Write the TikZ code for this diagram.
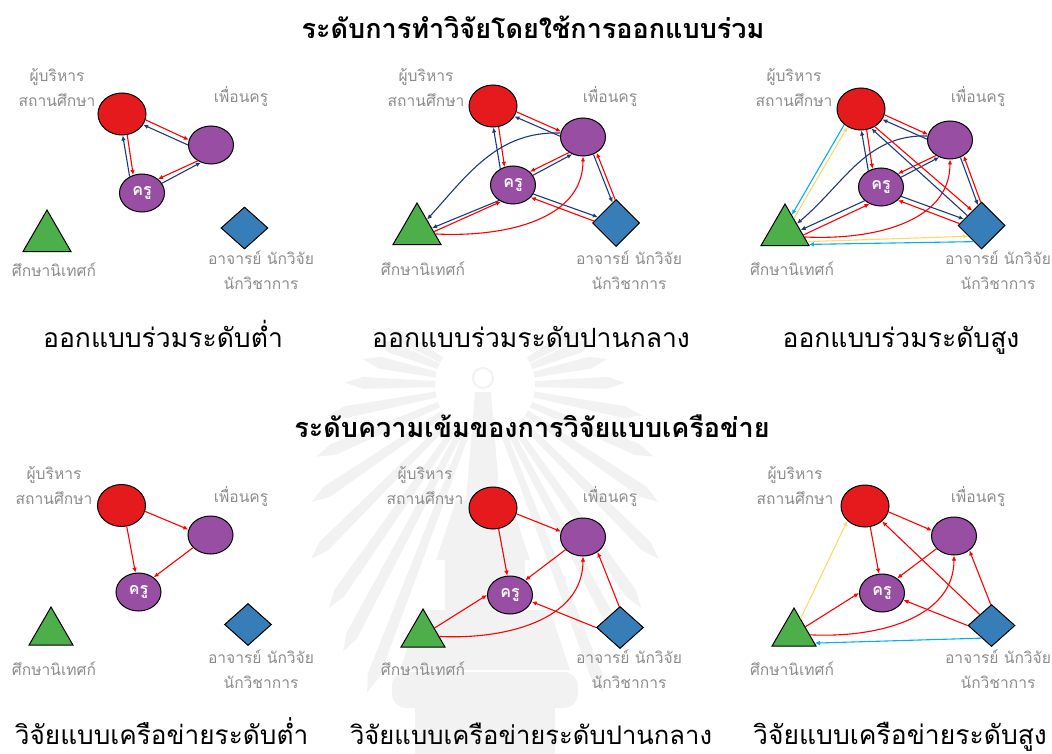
\documentclass[tikz,border=0pt]{standalone}
\usepackage{fontspec}
\newfontfamily\thaifont[Script=Thai]{Loma}
\usetikzlibrary{shapes.geometric,arrows.meta}
\definecolor{exred}{HTML}{E41A1C}
\definecolor{peerpurple}{HTML}{984EA3}
\definecolor{trigreen}{HTML}{4DAF4A}
\definecolor{diablue}{HTML}{377EB8}
\definecolor{labgray}{HTML}{8C8C8C}
\definecolor{linknavy}{HTML}{1F3A78}
\definecolor{linkcyan}{HTML}{00B0F0}
\definecolor{linkyellow}{HTML}{FFD966}
\definecolor{wmgray}{HTML}{F2F2F2}
\tikzset{
  execnode/.style={ellipse,draw=black,line width=1pt,fill=exred,inner sep=0pt,minimum width=48pt,minimum height=42pt},
  peernode/.style={ellipse,draw=black,line width=1pt,fill=peerpurple,inner sep=0pt,minimum width=45pt,minimum height=38pt},
  krunode/.style={peernode,text=white,font=\thaifont\bfseries\fontsize{16}{16}\selectfont},
  trinode/.style={regular polygon,regular polygon sides=3,draw=black,line width=1pt,fill=trigreen,inner sep=0pt,minimum size=#1},
  trinode/.default=55.4pt,
  dianode/.style={diamond,draw=black,line width=1pt,fill=diablue,inner sep=0pt,minimum width=47pt,minimum height=#1},
  dianode/.default=42pt,
  lab/.style={align=center,text=labgray,font=\thaifont\fontsize{15.6}{25}\selectfont},
  headline/.style={anchor=base,font=\thaifont\bfseries\fontsize{27}{30}\selectfont},
  capline/.style={anchor=base,font=\thaifont\fontsize{#1}{30}\selectfont},
  capline/.default=26.5,
  link/.style={-{Latex[length=5pt,width=4.5pt]},line width=1.1pt},
  redlink/.style={link,red},
  navylink/.style={link,linknavy},
  cyanlink/.style={link,linkcyan},
  yellowlink/.style={link,linkyellow},
  wmark/.style={fill=wmgray,draw=none}
}
\begin{document}
\begin{tikzpicture}[x=1pt,y=1pt]
  \useasboundingbox (0,0) rectangle (1052,-754);
  % faint emblem behind everything
  \foreach \ang/\len in {168/125,179/140,191/160,203/183,214/209,225/246,235/272,242/302,249/329,
                         12/125,1/140,-11/160,-23/183,-34/209,-45/246,-55/272,-62/302,-69/329,
                         150/115,30/115,158/120,22/120}
    \fill[wmark,shift={(485,-385)},rotate=\ang] (50,-3) -- ({\len-18},-6) -- (\len,0) -- ({\len-18},6) -- (50,3) -- cycle;
  \draw[draw=wmgray,line width=2pt] (483,-378) circle (10);
  \fill[wmark] (475,-392) -- (491,-392) -- (500,-500) -- (466,-500) -- cycle;
  \fill[wmark] (456,-500) -- (510,-500) -- (530,-560) -- (436,-560) -- cycle;
  \fill[wmark] (445,-560) rectangle (525,-610);
  \fill[wmark] (420,-610) -- (550,-610) -- (570,-670) -- (400,-670) -- cycle;
  \fill[wmark,rounded corners=14pt] (392,-672) rectangle (578,-708);
  \fill[wmark] (415,-708) rectangle (555,-754);

  % titles
  \node[headline] (title1) at (533,-39) {ระดับการทำวิจัยโดยใช้การออกแบบร่วม};
  \node[headline] (title2) at (532,-437) {ระดับความเข้มของการวิจัยแบบเครือข่าย};

  % panel 1
  \node[execnode] (ex1) at (122,-114) {};
  \node[peernode] (pe1) at (211,-145) {};
  \node[krunode] (kr1) at (142,-193) {ครู};
  \node[trinode] (tr1) at (47,-237.7) {};
  \node[dianode] (di1) at (244.5,-228) {};
  \node[lab] (exl1) at (57,-88) {ผู้บริหาร\\สถานศึกษา};
  \node[lab] (pel1) at (241,-97) {เพื่อนครู};
  \node[lab] (trl1) at (54,-270) {ศึกษานิเทศก์};
  \node[lab] (dil1) at (261,-270) {อาจารย์ นักวิจัย\\นักวิชาการ};
  \node[capline] (cap1) at (163,-347) {ออกแบบร่วมระดับต่ำ};
  \draw[redlink] (ex1.-14) -- (pe1.167);
  \draw[navylink] (pe1.180) -- (ex1.-27);
  \draw[redlink] (ex1.-76) -- (kr1.116);
  \draw[navylink] (kr1.127) -- (ex1.-88);
  \draw[redlink] (pe1.230) -- (kr1.41);
  \draw[navylink] (kr1.26) -- (pe1.240);

  % panel 2
  \node[execnode] (ex2) at (493,-106) {};
  \node[peernode] (pe2) at (583,-137) {};
  \node[krunode] (kr2) at (513,-185) {ครู};
  \node[trinode] (tr2) at (417,-230.7) {};
  \node[dianode=47pt] (di2) at (616,-223) {};
  \node[lab] (exl2) at (426,-88) {ผู้บริหาร\\สถานศึกษา};
  \node[lab] (pel2) at (610,-97) {เพื่อนครู};
  \node[lab] (trl2) at (423,-269) {ศึกษานิเทศก์};
  \node[lab] (dil2) at (629,-270) {อาจารย์ นักวิจัย\\นักวิชาการ};
  \node[capline] (cap2) at (531,-347) {ออกแบบร่วมระดับปานกลาง};
  \draw[redlink] (ex2.-14) -- (pe2.166);
  \draw[navylink] (pe2.178) -- (ex2.-26);
  \draw[redlink] (ex2.-75) -- (kr2.115);
  \draw[navylink] (kr2.128) -- (ex2.-89);
  \draw[redlink] (pe2.228) -- (kr2.38);
  \draw[navylink] (kr2.26) -- (pe2.238);
  \draw[navylink] (pe2.-59) -- (di2.100);
  \draw[redlink] (di2.92) -- (pe2.-49);
  \draw[navylink] (kr2.-24) -- (di2.162);
  \draw[redlink] (di2.175) -- (kr2.-35);
  \draw[navylink] (kr2.228) -- (tr2.10);
  \draw[redlink] (tr2.-3) -- (kr2.234);
  \draw[navylink] (pe2.170) to[out=178,in=48] (tr2.48);
  \draw[redlink] (tr2.-10) to[out=-3,in=-90] (pe2.-90);

  % panel 3
  \node[execnode] (ex3) at (861,-109) {};
  \node[peernode] (pe3) at (950,-140) {};
  \node[krunode] (kr3) at (881,-187) {ครู};
  \node[trinode] (tr3) at (785,-231.7) {};
  \node[dianode=47pt] (di3) at (981.5,-225.5) {};
  \node[lab] (exl3) at (794,-88) {ผู้บริหาร\\สถานศึกษา};
  \node[lab] (pel3) at (978,-97) {เพื่อนครู};
  \node[lab] (trl3) at (792,-269) {ศึกษานิเทศก์};
  \node[lab] (dil3) at (998,-270) {อาจารย์ นักวิจัย\\นักวิชาการ};
  \node[capline] (cap3) at (901,-347) {ออกแบบร่วมระดับสูง};
  \draw[redlink] (ex3.-14) -- (pe3.166);
  \draw[navylink] (pe3.178) -- (ex3.-26);
  \draw[redlink] (ex3.-75) -- (kr3.115);
  \draw[navylink] (kr3.128) -- (ex3.-89);
  \draw[redlink] (pe3.228) -- (kr3.38);
  \draw[navylink] (kr3.26) -- (pe3.238);
  \draw[navylink] (pe3.-59) -- (di3.100);
  \draw[redlink] (di3.92) -- (pe3.-49);
  \draw[navylink] (kr3.-25) -- (di3.160);
  \draw[redlink] (di3.175) -- (kr3.-38);
  \draw[navylink] (kr3.220) -- (tr3.6);
  \draw[redlink] (tr3.-10) -- (kr3.236);
  \draw[navylink] (pe3.170) to[out=178,in=40] (tr3.34);
  \draw[redlink] (tr3.-15) to[out=-3,in=-90] (pe3.-90);
  \draw[redlink] (ex3.-52) -- (di3.122);
  \draw[navylink] (di3.145) -- (ex3.-62);
  \draw[cyanlink] (ex3.223) -- (tr3.68);
  \draw[yellowlink] (tr3.56) -- (ex3.233);
  \draw[yellowlink] (tr3.-24) -- (di3.219);
  \draw[cyanlink] (di3.244) -- (tr3.-28);

  % panel 4
  \node[execnode] (ex4) at (121.5,-505.5) {};
  \node[peernode] (pe4) at (210.5,-535) {};
  \node[krunode] (kr4) at (138.5,-592) {ครู};
  \node[trinode=50.8pt] (tr4) at (51,-632.4) {};
  \node[dianode] (di4) at (248,-624.5) {};
  \node[lab] (exl4) at (54,-486) {ผู้บริหาร\\สถานศึกษา};
  \node[lab] (pel4) at (241,-497) {เพื่อนครู};
  \node[lab] (trl4) at (54,-669) {ศึกษานิเทศก์};
  \node[lab] (dil4) at (261,-669) {อาจารย์ นักวิจัย\\นักวิชาการ};
  \node[capline=26.2] (cap4) at (161.5,-744) {วิจัยแบบเครือข่ายระดับต่ำ};
  \draw[redlink] (ex4.-14) -- (pe4.166);
  \draw[redlink] (ex4.-76) -- (kr4.99);
  \draw[redlink] (pe4.216) -- (kr4.44);

  % panel 5
  \node[execnode] (ex5) at (493,-508) {};
  \node[peernode] (pe5) at (583,-537) {};
  \node[krunode] (kr5) at (510,-595) {ครู};
  \node[trinode=50.8pt] (tr5) at (423,-634.4) {};
  \node[dianode] (di5) at (620,-627.5) {};
  \node[lab] (exl5) at (425,-486) {ผู้บริหาร\\สถานศึกษา};
  \node[lab] (pel5) at (610,-497) {เพื่อนครู};
  \node[lab] (trl5) at (423,-669) {ศึกษานิเทศก์};
  \node[lab] (dil5) at (629,-669) {อาจารย์ นักวิจัย\\นักวิชาการ};
  \node[capline=25.6] (cap5) at (531,-744) {วิจัยแบบเครือข่ายระดับปานกลาง};
  \draw[redlink] (ex5.-14) -- (pe5.166);
  \draw[redlink] (ex5.-75) -- (kr5.98);
  \draw[redlink] (pe5.216) -- (kr5.44);
  \draw[redlink] (tr5.29) -- (kr5.180);
  \draw[redlink] (tr5.-7) to[out=-3,in=-90] (pe5.-90);
  \draw[redlink] (di5.92) -- (pe5.-46);
  \draw[redlink] (di5.180) -- (kr5.-17);

  % panel 6
  \node[execnode] (ex6) at (865,-506) {};
  \node[peernode] (pe6) at (954,-536) {};
  \node[krunode] (kr6) at (882,-593) {ครู};
  \node[trinode=50.8pt] (tr6) at (794,-633.4) {};
  \node[dianode] (di6) at (991.5,-625.5) {};
  \node[lab] (exl6) at (795,-486) {ผู้บริหาร\\สถานศึกษา};
  \node[lab] (pel6) at (978,-497) {เพื่อนครู};
  \node[lab] (trl6) at (792,-669) {ศึกษานิเทศก์};
  \node[lab] (dil6) at (998,-669) {อาจารย์ นักวิจัย\\นักวิชาการ};
  \node[capline] (cap6) at (900,-744) {วิจัยแบบเครือข่ายระดับสูง};
  \draw[redlink] (ex6.-14) -- (pe6.166);
  \draw[redlink] (ex6.-76) -- (kr6.99);
  \draw[redlink] (pe6.216) -- (kr6.44);
  \draw[redlink] (tr6.30) -- (kr6.180);
  \draw[redlink] (tr6.-5) to[out=-3,in=-90] (pe6.-90);
  \draw[redlink] (di6.92) -- (pe6.-43);
  \draw[redlink] (di6.180) -- (kr6.-18);
  \draw[redlink] (di6.137) -- (ex6.-42);
  \draw[yellowlink] (tr6.66) -- (ex6.220);
  \draw[cyanlink] (di6.232) -- (tr6.-25);
\end{tikzpicture}
\end{document}
